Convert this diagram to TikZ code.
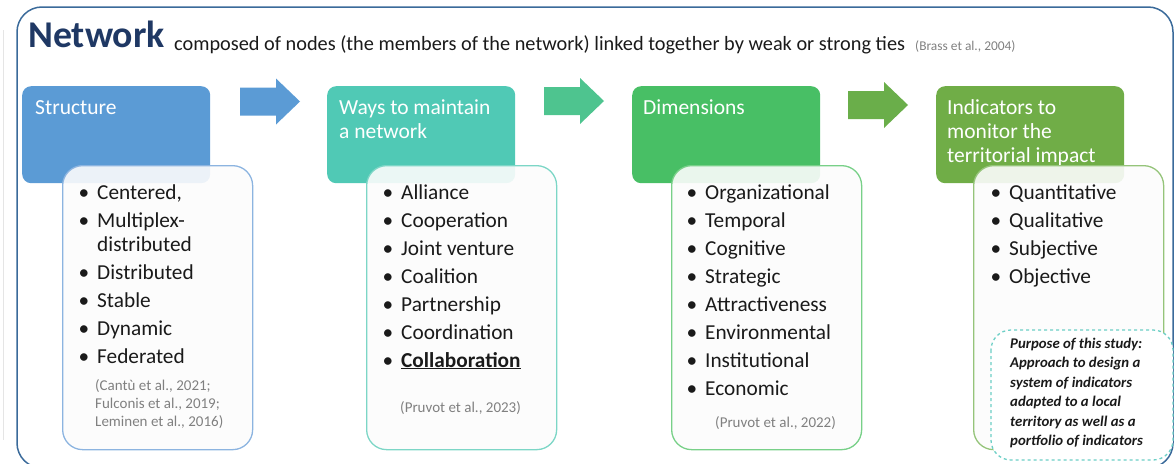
\documentclass[tikz,border=0pt]{standalone}
\usepackage{fontspec}
\setmainfont{Carlito}
\definecolor{navy}{HTML}{1F3864}
\definecolor{frameblue}{HTML}{3A6A9A}
\definecolor{cblue}{HTML}{5B9BD5}
\definecolor{cteal}{HTML}{50C9B5}
\definecolor{cgreen}{HTML}{48BF65}
\definecolor{colive}{HTML}{70AD47}
\definecolor{ateal}{HTML}{4EC48F}
\definecolor{aolive}{HTML}{6AAE4A}
\definecolor{bblue}{HTML}{8CB4E0}
\definecolor{bteal}{HTML}{7CD6C6}
\definecolor{bgreen}{HTML}{78D088}
\definecolor{bolive}{HTML}{95C47A}
\definecolor{dteal}{HTML}{6CCFC6}
\definecolor{citegray}{HTML}{808080}
\definecolor{boxfill}{HTML}{FCFCFC}
\definecolor{txt}{HTML}{1A1A1A}
\newcommand{\bul}[1]{\llap{\textbullet\hspace{8pt}}#1}
\begin{document}
\begin{tikzpicture}[x=1pt,y=-1pt,
  hdr/.style={rounded corners=9pt, minimum width=188pt, minimum height=97pt, anchor=north west, inner sep=0pt},
  body/.style={rounded corners=20pt, line width=1.3pt, fill=boxfill, fill opacity=0.9, minimum width=190pt, minimum height=284pt, anchor=north west, inner sep=0pt},
  htext/.style={anchor=base west, inner sep=0pt, text=white, font=\fontsize{21.5}{24}\selectfont},
  item/.style={anchor=base west, inner sep=0pt, text=txt, font=\fontsize{21.3}{24}\selectfont},
  cite/.style={anchor=base west, inner sep=0pt, text=citegray, font=\fontsize{15}{18}\selectfont},
  note/.style={anchor=base west, inner sep=0pt, text=txt, font=\fontsize{14.8}{18}\selectfont\bfseries\itshape}
]
\useasboundingbox (0,0) rectangle (1174,463);
\clip (0,0) rectangle (1174,463);
% faint side line and frame
\draw[gray!20, line width=1pt] (3,30) -- (3,440);
\draw[frameblue, line width=1.5pt, rounded corners=25pt] (17,7) rectangle (1173,468);
% title
\node[anchor=base west, inner sep=0pt, text=navy, font=\fontsize{37.8}{40}\selectfont\bfseries] (title) at (28,47) {Network};
\node[anchor=base west, inner sep=0pt, text=txt, font=\fontsize{20.3}{22}\selectfont] (sub) at (174,50) {composed of nodes (the members of the network) linked together by weak or strong ties};
\node[anchor=base west, inner sep=0pt, text=citegray, font=\fontsize{13.4}{15}\selectfont] (brass) at (915,50) {(Brass et al., 2004)};
% header boxes
\node[hdr, fill=cblue] (h1) at (22,86) {};
\node[hdr, fill=cteal] (h2) at (327,86) {};
\node[hdr, fill=cgreen] (h3) at (632,86) {};
\node[hdr, fill=colive] (h4) at (936,86) {};
% arrows
\fill[cblue] (240,87.5) -- (276,87.5) -- (276,78.5) -- (300,101.5) -- (276,124.5) -- (276,115.5) -- (240,115.5) -- cycle;
\fill[ateal] (544,87) -- (580,87) -- (580,78) -- (604,101) -- (580,124) -- (580,115) -- (544,115) -- cycle;
\fill[aolive] (848,91) -- (884,91) -- (884,82) -- (908,105) -- (884,128) -- (884,119) -- (848,119) -- cycle;
% header texts
\node[htext] (h1a) at (35,114) {Structure};
\node[htext] (h2a) at (339,114) {Ways to maintain};
\node[htext] (h2b) at (339,138) {a network};
\node[htext] (h3a) at (643,114) {Dimensions};
\node[htext] (h4a) at (947,114) {Indicators to};
\node[htext] (h4b) at (947,138) {monitor the};
\node[htext] (h4c) at (947,162) {territorial impact};
% body boxes
\node[body, draw=bblue] (b1) at (62,165) {};
\node[body, draw=bteal] (b2) at (366,165) {};
\node[body, draw=bgreen] (b3) at (671,165) {};
\node[body, draw=bolive] (b4) at (973,165) {};
% Structure items
\node[item] (s1) at (97,199) {\bul{Centered,}};
\node[item] (s2) at (97,227) {\bul{Multiplex-}};
\node[item] (s2b) at (97,251) {distributed};
\node[item] (s3) at (97,279) {\bul{Distributed}};
\node[item] (s4) at (97,307) {\bul{Stable}};
\node[item] (s5) at (97,335) {\bul{Dynamic}};
\node[item] (s6) at (97,363) {\bul{Federated}};
\node[cite] (sc1) at (95,390) {(Cantù et al., 2021;};
\node[cite] (sc2) at (95,408) {Fulconis et al., 2019;};
\node[cite] (sc3) at (95,426) {Leminen et al., 2016)};
% Ways items
\node[item] (w1) at (401,199) {\bul{Alliance}};
\node[item] (w2) at (401,227) {\bul{Cooperation}};
\node[item] (w3) at (401,255) {\bul{Joint venture}};
\node[item] (w4) at (401,283) {\bul{Coalition}};
\node[item] (w5) at (401,311) {\bul{Partnership}};
\node[item] (w6) at (401,339) {\bul{Coordination}};
\node[item] (w7) at (401,367) {\bul{\underline{\textbf{Collaboration}}}};
\node[cite] (wc) at (400,412) {(Pruvot et al., 2023)};
% Dimensions items
\node[item] (d1) at (705,199) {\bul{Organizational}};
\node[item] (d2) at (705,227) {\bul{Temporal}};
\node[item] (d3) at (705,255) {\bul{Cognitive}};
\node[item] (d4) at (705,283) {\bul{Strategic}};
\node[item] (d5) at (705,311) {\bul{Attractiveness}};
\node[item] (d6) at (705,339) {\bul{Environmental}};
\node[item] (d7) at (705,367) {\bul{Institutional}};
\node[item] (d8) at (705,395) {\bul{Economic}};
\node[cite] (dc) at (715,427) {(Pruvot et al., 2022)};
% Indicators items
\node[item] (i1) at (1009,199) {\bul{Quantitative}};
\node[item] (i2) at (1009,227) {\bul{Qualitative}};
\node[item] (i3) at (1009,255) {\bul{Subjective}};
\node[item] (i4) at (1009,283) {\bul{Objective}};
% purpose box
\draw[dteal, line width=1.3pt, dashed, fill=white, rounded corners=20pt] (991,330) rectangle (1173,460);
\node[note] (p1) at (1010,348) {Purpose of this study:};
\node[note] (p2) at (1010,367.5) {Approach to design a};
\node[note] (p3) at (1010,387) {system of indicators};
\node[note] (p4) at (1010,406.5) {adapted to a local};
\node[note] (p5) at (1010,426) {territory as well as a};
\node[note] (p6) at (1010,445.5) {portfolio of indicators};
\end{tikzpicture}
\end{document}
